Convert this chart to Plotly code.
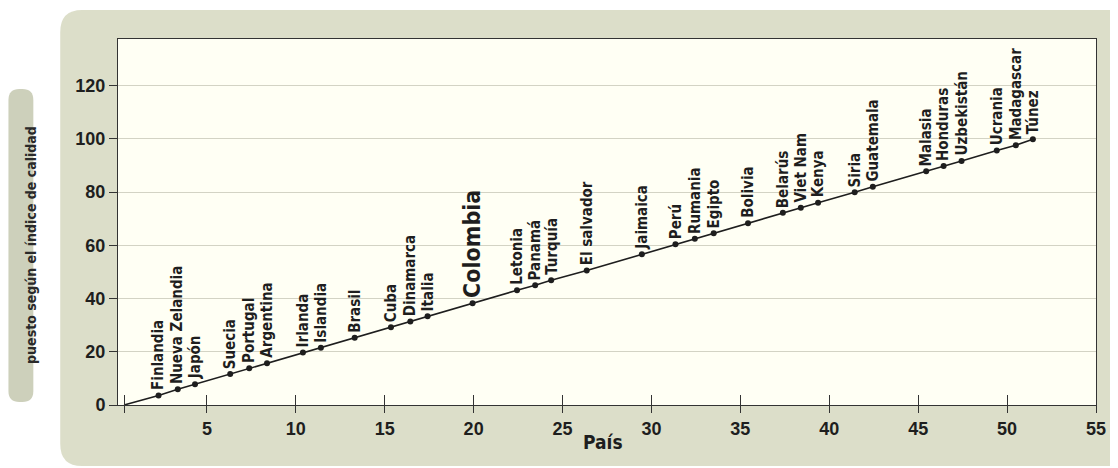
import plotly.graph_objects as go

# ---------------- data ----------------
paises = ["Finlandia", "Nueva Zelandia", "Japón", "Suecia", "Portugal", "Argentina",
          "Irlanda", "Islandia", "Brasil", "Cuba", "Dinamarca", "Italia", "Colombia",
          "Letonia", "Panamá", "Turquía", "El salvador", "Jaimaica", "Perú", "Rumania",
          "Egipto", "Bolivia", "Belarús", "Viet Nam", "Kenya", "Siria", "Guatemala",
          "Malasia", "Honduras", "Uzbekistán", "Ucrania", "Madagascar", "Túnez"]
pos_x = [2.28, 3.36, 4.33, 6.31, 7.38, 8.38, 10.40, 11.41, 13.31, 15.35, 16.44, 17.41,
         19.94, 22.44, 23.46, 24.36, 26.36, 29.46, 31.35, 32.44, 33.50, 35.43, 37.39,
         38.40, 39.37, 41.43, 42.45, 45.45, 46.43, 47.44, 49.42, 50.49, 51.45]
puesto = [3.6, 5.9, 7.8, 11.6, 13.8, 15.7, 19.7, 21.5, 25.3, 29.2, 31.4, 33.3,
          38.2, 43.1, 45.0, 46.9, 50.5, 56.6, 60.4, 62.5, 64.5, 68.3, 72.2,
          74.1, 76.0, 79.9, 82.0, 87.8, 89.8, 91.7, 95.6, 97.6, 99.8]
origen_x = [0.34]
origen_y = [0]
x_ticks = [5, 10, 15, 20, 25, 30, 35, 40, 45, 50, 55]
y_ticks = [0, 20, 40, 60, 80, 100, 120]
destacado = "Colombia"

# ---------------- geometry (page pixels; the page body has an 8px margin) ----------------
OFF = 8
W, H = 1118 - OFF, 468 - OFF
PL, PR, PT, PB = 118, 1100, 39, 405          # plot box in page pixels
ML, MT = PL - OFF, PT - OFF
MR, MB = W - (PR - OFF), H - (PB - OFF)
PW, PH = PR - PL, PB - PT


def px2x(p):
    return (p - PL) / PW


def py2y(p):
    return (PB - p) / PH


def rrect(x0, y0, x1, y1, r):
    X0, X1 = px2x(x0), px2x(x1)
    Y0, Y1 = py2y(y0), py2y(y1)
    rx, ry = r / PW, r / PH
    return (f"M {X0+rx},{Y0} L {X1-rx},{Y0} Q {X1},{Y0} {X1},{Y0-ry} "
            f"L {X1},{Y1+ry} Q {X1},{Y1} {X1-rx},{Y1} L {X0+rx},{Y1} "
            f"Q {X0},{Y1} {X0},{Y1+ry} L {X0},{Y0-ry} Q {X0},{Y0} {X0+rx},{Y0} Z")


PANEL = "#dcdec9"
PILL = "#cdd0bb"
PLOTBG = "#fffff4"
INK = "#1e1e1e"
NARROW = "DejaVu Sans Condensed, Liberation Sans Narrow, Roboto, Arial, sans-serif"
SANS = "Liberation Sans, Arial, sans-serif"

fig = go.Figure()

fig.add_trace(go.Scatter(
    x=origen_x + pos_x, y=origen_y + puesto, mode="lines",
    line=dict(color=INK, width=1.6), hoverinfo="skip", showlegend=False))
fig.add_trace(go.Scatter(
    x=pos_x, y=puesto, mode="markers", xaxis="x2",
    marker=dict(color=INK, size=6), text=paises, showlegend=False))

shapes = [
    dict(type="path", xref="paper", yref="paper", layer="below",
         path=rrect(60, 10, 1140, 466, 22), fillcolor=PANEL, line=dict(width=0)),
    dict(type="path", xref="paper", yref="paper", layer="below",
         path=rrect(8, 89, 33, 402, 11), fillcolor=PILL, line=dict(width=0)),
    dict(type="rect", xref="paper", yref="paper", layer="below",
         x0=0, x1=1, y0=0, y1=1, fillcolor=PLOTBG, line=dict(width=0)),
]

annotations = []
for name, xv, yv in zip(paises, pos_x, puesto):
    big = name == destacado
    annotations.append(dict(
        x=xv, y=yv, xref="x", yref="y", text=name, showarrow=False,
        textangle=-90, xanchor="center", yanchor="bottom", yshift=3,
        font=dict(family=NARROW, size=23 if big else 15, color=INK, weight="bold")))

annotations.append(dict(
    x=px2x(20.5), y=py2y(245), xref="paper", yref="paper",
    text="puesto según el índice de calidad", showarrow=False, textangle=-90,
    font=dict(family=NARROW, size=14, color="#2a2a2a", weight="bold")))
annotations.append(dict(
    x=px2x(605), y=py2y(455), xref="paper", yref="paper", text="País", showarrow=False,
    font=dict(family=NARROW, size=19, color=INK, weight="bold")))

tick_vals_x = origen_x + x_ticks
tick_text_x = [""] + [str(v) for v in x_ticks]

fig.update_layout(
    width=W, height=H,
    margin=dict(l=ML, r=MR, t=MT, b=MB, pad=0),
    paper_bgcolor="white", plot_bgcolor=PLOTBG,
    shapes=shapes, annotations=annotations,
    xaxis=dict(range=[0, 55], tickmode="array", tickvals=tick_vals_x, ticktext=tick_text_x,
               ticks="outside", ticklen=7, tickwidth=1, tickcolor="#333",
               showgrid=False, zeroline=False, showline=True, linecolor="#333", linewidth=1,
               mirror=True,
               tickfont=dict(family=SANS, size=18, color=INK, weight="bold")),
    xaxis2=dict(range=[0, 55], overlaying="x", anchor="y", tickmode="array",
                tickvals=tick_vals_x, ticks="inside", ticklen=10, tickwidth=1, tickcolor="#333",
                showticklabels=False, showgrid=False, zeroline=False, showline=False),
    yaxis=dict(range=[0, 137.5], tickmode="array", tickvals=y_ticks,
               ticks="outside", ticklen=8, tickwidth=1, tickcolor="#333",
               showgrid=True, gridcolor="#d3d3c4", gridwidth=1,
               zeroline=False, showline=True, linecolor="#333", linewidth=1, mirror=True,
               tickfont=dict(family=SANS, size=18, color=INK, weight="bold")),
    hovermode=False,
)

fig.write_html("out.html")
